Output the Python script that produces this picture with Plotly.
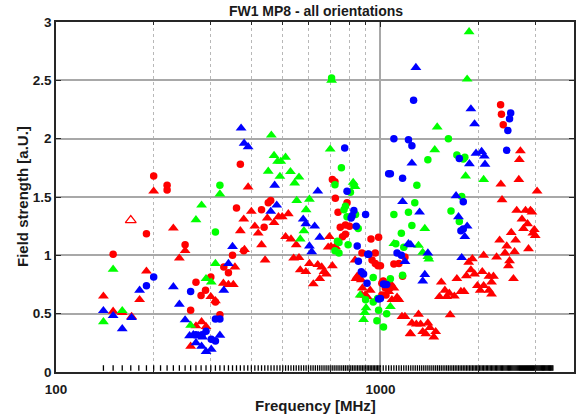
import numpy as np
import plotly.graph_objects as go

# ---------------- data (frequency in MHz, field strength in a.U.) ----------------
rc_f = [370, 200, 220, 220, 360, 190, 379, 250, 350, 150, 270, 260, 320, 300, 289, 280, 310, 329, 340,
        459, 451, 430, 438, 711, 724, 726, 789, 740, 752, 803, 780, 935, 987, 764, 780, 877, 964, 942,
        964, 1000, 1010, 1035, 1100, 1140, 1170, 1190, 1020, 1040, 1070, 1010, 1040, 920, 983, 1020,
        2346, 2360, 2390]
rc_v = [1.78, 1.68, 1.60, 1.56, 1.405, 1.185, 1.04, 1.09, 1.00, 1.01, 0.77, 0.53, 0.49, 0.815, 0.70, 0.655, 0.60, 0.90, 0.85,
        1.47, 1.45, 1.39, 1.24, 1.65, 1.63, 1.49, 1.45, 1.37, 1.24, 1.25, 1.26, 1.14, 1.155, 1.16, 1.18, 1.02, 1.02, 0.96,
        0.93, 0.91, 0.76, 0.72, 0.925, 0.93, 0.82, 0.985, 0.775, 0.74, 0.72, 0.66, 0.66, 1.01, 0.91, 0.78,
        2.29, 2.21, 2.12]

rt_f = [200, 391, 400, 379, 230, 370, 250, 240, 190, 181, 140, 150, 160, 171, 270, 281, 290, 260, 300, 310,
        356, 328, 340, 352, 410, 420, 448, 470, 485, 498, 520, 510, 530, 550, 430, 381, 696, 704, 726, 441,
        540, 561, 604, 641, 659, 711, 566, 589, 670, 681, 650, 621, 690, 724, 835, 848, 873, 880, 930, 897,
        877, 840, 910, 1073, 1100, 1085, 1125, 1140, 1060, 1165, 1250, 1235, 1190, 1310, 1290, 1330, 1400,
        1420, 1240, 1350, 1380, 1480, 1460, 1640,
        2700, 2680, 2670, 2350, 3040, 2370, 2630, 2800, 2900, 2930, 2730, 2840, 2760, 2980, 2950, 3000,
        2530, 2610, 2330, 2450, 2860, 2420, 2590, 2080, 2280, 2500, 2480, 1920, 1870, 1900, 1950, 1840,
        1720, 2060, 2160, 2230, 2200, 2570, 1540, 1580, 1520, 1600, 1630, 1690, 1770, 1810, 1990, 2030,
        2080, 2160, 2200]
rt_v = [1.55, 1.585, 1.376, 1.31, 1.233, 1.21, 1.04, 0.976, 0.864, 0.62, 0.65, 0.52, 0.51, 0.475, 0.395, 0.43, 0.39, 0.22, 0.646, 0.61,
        0.90, 0.76, 0.75, 0.75, 1.25, 1.19, 1.32, 1.28, 1.33, 1.33, 1.356, 1.16, 1.14, 1.09, 1.09, 1.05, 1.16, 1.075, 1.075, 0.96,
        0.976, 0.98, 0.93, 0.92, 0.90, 0.91, 0.875, 0.86, 0.86, 0.84, 0.80, 0.755, 1.07, 1.07, 0.96, 0.82, 0.79, 0.72, 0.70, 0.66,
        0.66, 0.80, 0.646, 0.76, 0.72, 0.62, 0.64, 0.62, 0.69, 0.475, 0.42, 0.33, 0.475, 0.495, 0.41, 0.41, 0.42,
        0.38, 0.326, 0.346, 0.326, 0.346, 0.30, 0.49,
        1.895, 1.82, 1.65, 1.61, 1.55, 1.476, 1.385, 1.385, 1.385, 1.37, 1.31, 1.27, 1.23, 1.22, 1.19, 1.17,
        1.195, 1.13, 1.13, 1.08, 1.056, 1.02, 1.03, 1.00, 0.985, 0.953, 0.91, 0.97, 0.94, 0.875, 0.84, 0.824,
        0.80, 0.86, 0.82, 0.82, 0.77, 0.80, 0.77, 0.70, 0.646, 0.646, 0.675, 0.65, 0.69, 0.69, 0.74, 0.70,
        0.74, 0.70, 0.667]

gc_f = [320, 310, 707, 758, 724, 808, 780, 772, 789, 838, 854, 737, 745, 724, 950, 950, 980, 987, 975, 1022,
        828, 795, 745, 900, 1295, 1276, 1100, 1220, 1250, 1160, 1115, 1180, 1073, 1045, 1620, 1400, 1720,
        1820, 1800, 1650, 1750, 1780, 1170]
gc_v = [1.60, 1.20, 2.52, 1.75, 1.605, 1.54, 1.42, 1.39, 1.33, 1.35, 1.23, 1.12, 1.02, 1.04, 0.81, 0.60, 0.63, 0.53, 0.44, 0.385,
        1.60, 1.09, 1.11, 0.62, 1.60, 1.45, 1.35, 1.37, 1.256, 1.19, 1.10, 1.07, 0.80, 0.50, 2.00, 1.82, 1.86,
        1.84, 1.825, 1.38, 1.29, 1.505, 0.83]

gt_f = [320, 281, 270, 150, 140, 160, 260, 290, 301, 310, 461, 700, 470, 482, 510, 493, 451, 528, 561, 490,
        544, 824, 835, 552, 604, 590, 581, 566, 866, 903, 895, 887, 707, 1876, 1850, 1496, 1470, 1830, 2080,
        1370, 1310, 1350, 1410, 1400, 1073, 1100]
gt_v = [1.525, 1.43, 1.305, 0.88, 0.43, 0.526, 0.40, 0.80, 0.77, 0.93, 2.03, 1.91, 1.855, 1.805, 1.84, 1.805, 1.72, 1.717, 1.67, 1.676,
        1.62, 1.625, 1.59, 1.47, 1.48, 1.39, 1.21, 1.14, 0.66, 0.55, 0.51, 0.45, 2.50, 2.916, 2.51, 2.10, 1.905, 1.68, 1.65,
        1.23, 1.085, 1.025, 0.967, 0.99, 0.56, 1.10]

bc_f = [200, 190, 260, 270, 282, 290, 301, 310, 310, 320, 776, 789, 1060, 828, 818, 812, 900, 842, 848, 855,
        914, 873, 887, 909, 987, 1030, 1265, 1100, 1220, 1250, 1073, 1170, 1125, 1160, 2520, 2500, 2470, 2450,
        1750, 1800, 1770, 1800, 1022, 1045, 1000, 920]
bc_v = [0.815, 0.74, 0.69, 0.32, 0.32, 0.35, 0.28, 0.266, 0.455, 0.455, 1.92, 1.55, 1.70, 1.385, 1.34, 1.32, 1.35, 1.25, 1.08, 0.95,
        1.01, 0.86, 0.84, 0.76, 0.626, 0.75, 2.33, 2.00, 1.99, 1.94, 1.70, 1.66, 1.02, 1.00, 2.22, 2.17, 2.07, 1.90,
        1.83, 1.46, 1.21, 1.225, 0.755, 0.75, 0.63, 1.01]

bt_f = [350, 181, 140, 150, 171, 160, 230, 240, 250, 258, 265, 275, 283, 270, 281, 290, 301, 320, 340, 329,
        372, 380, 391, 472, 641, 459, 479, 578, 589, 627, 650, 604, 614, 1286, 1250, 1170, 1220, 1190, 1900,
        1950, 1970, 2050, 2090, 1880, 2100, 1320, 1710, 1740, 1850, 1820, 1780, 1240, 1400, 1370, 1350]
bt_v = [1.075, 0.70, 0.526, 0.483, 0.466, 0.37, 0.73, 0.58, 0.446, 0.31, 0.32, 0.31, 0.30, 0.25, 0.22, 0.175, 0.195, 0.315, 0.93, 0.70,
        2.09, 1.96, 1.93, 1.60, 1.55, 1.376, 1.43, 1.31, 1.27, 1.25, 1.155, 1.08, 1.03, 2.61, 1.79, 1.46, 1.10, 0.947, 2.255,
        2.126, 1.875, 1.89, 1.85, 1.785, 1.78, 1.37, 1.51, 1.33, 1.25, 1.16, 0.98, 1.09, 1.02, 0.835, 0.78]

open_f = [170]
open_v = [1.30]

# measurement frequency sweep (marked along the bottom)
sweep_low = np.arange(140, 1001, 10)
sweep_high = np.arange(1020, 3401, 20)
sweep_f = np.concatenate([sweep_low, sweep_high])
sweep_level = 0.034

x_major = [100, 1000]
x_minor = [200, 300, 400, 500, 600, 700, 800, 900, 2000, 3000]
y_ticks = [0, 0.5, 1, 1.5, 2, 2.5, 3]
y_labels = ["0", "0.5", "1", "1.5", "2", "2.5", "3"]

RED, GREEN, BLUE = "#ff0000", "#00ff00", "#0000ff"
FONT = "Liberation Sans"
TRI, CIR = 9.5, 7.5

fig = go.Figure()

def add(f, v, color, symbol, size):
    fig.add_trace(go.Scatter(x=f, y=v, mode="markers",
                             marker=dict(color=color, symbol=symbol, size=size, line=dict(width=0)),
                             hoverinfo="skip", showlegend=False))

add(rt_f, rt_v, RED, "triangle-up", TRI)
add(rc_f, rc_v, RED, "circle", CIR)
add(gt_f, gt_v, GREEN, "triangle-up", TRI)
add(gc_f, gc_v, GREEN, "circle", CIR)
add(bt_f, bt_v, BLUE, "triangle-up", TRI)
add(bc_f, bc_v, BLUE, "circle", CIR)
fig.add_trace(go.Scatter(x=open_f, y=open_v, mode="markers",
                         marker=dict(color=RED, symbol="triangle-up-open", size=TRI, line=dict(width=1.2, color=RED)),
                         showlegend=False))
fig.add_trace(go.Scatter(x=sweep_f, y=[sweep_level] * len(sweep_f), mode="markers",
                         marker=dict(symbol="line-ns", size=4, line=dict(width=1.3, color="black")),
                         showlegend=False))

fig.update_layout(
    width=576, height=415,
    margin=dict(l=56, r=0, t=22, b=43),
    paper_bgcolor="white", plot_bgcolor="white",
    font=dict(family=FONT, color="#262626"),
    title=dict(text="FW1 MP8 - all orientations", x=316 / 576, xanchor="center",
               y=1 - 11 / 415, yanchor="middle",
               font=dict(family=FONT, size=14, weight="bold", color="#1a1a1a")),
    xaxis=dict(type="log", range=[2, 2 + 520 / 325.7],
               tickvals=x_major, ticktext=["100", "1000"],
               ticks="inside", ticklen=5, tickwidth=1, tickcolor="#262626",
               ticklabelstandoff=4,
               showline=True, linecolor="#262626", linewidth=1.5, mirror="ticks",
               showgrid=True, gridcolor="#a8a8a8", gridwidth=1.5,
               minor=dict(tickvals=x_minor, ticks="inside", ticklen=3, tickcolor="#262626",
                          showgrid=True, gridcolor="#b8b8b8", griddash="dot", gridwidth=1),
               tickfont=dict(family=FONT, size=13.5, weight="bold", color="#1a1a1a"),
               zeroline=False),
    yaxis=dict(range=[0, 3], tickvals=y_ticks, ticktext=y_labels,
               ticks="inside", ticklen=5, tickwidth=1, tickcolor="#262626",
               showline=True, linecolor="#262626", linewidth=1.5, mirror="ticks",
               showgrid=True, gridcolor="#a8a8a8", gridwidth=1.5,
               tickfont=dict(family=FONT, size=13.5, weight="bold", color="#1a1a1a"),
               zeroline=False),
    annotations=[
        dict(text="Frequency [MHz]", xref="paper", yref="paper", x=0.5, y=0, yshift=-33,
             xanchor="center", yanchor="middle", showarrow=False,
             font=dict(family=FONT, size=15, weight="bold", color="#1a1a1a")),
        dict(text="Field strength [a.U.]", xref="paper", yref="paper", x=0, y=0.5, xshift=-34,
             xanchor="center", yanchor="middle", textangle=-90, showarrow=False,
             font=dict(family=FONT, size=15, weight="bold", color="#1a1a1a")),
    ],
)

fig.write_html("out.html")
